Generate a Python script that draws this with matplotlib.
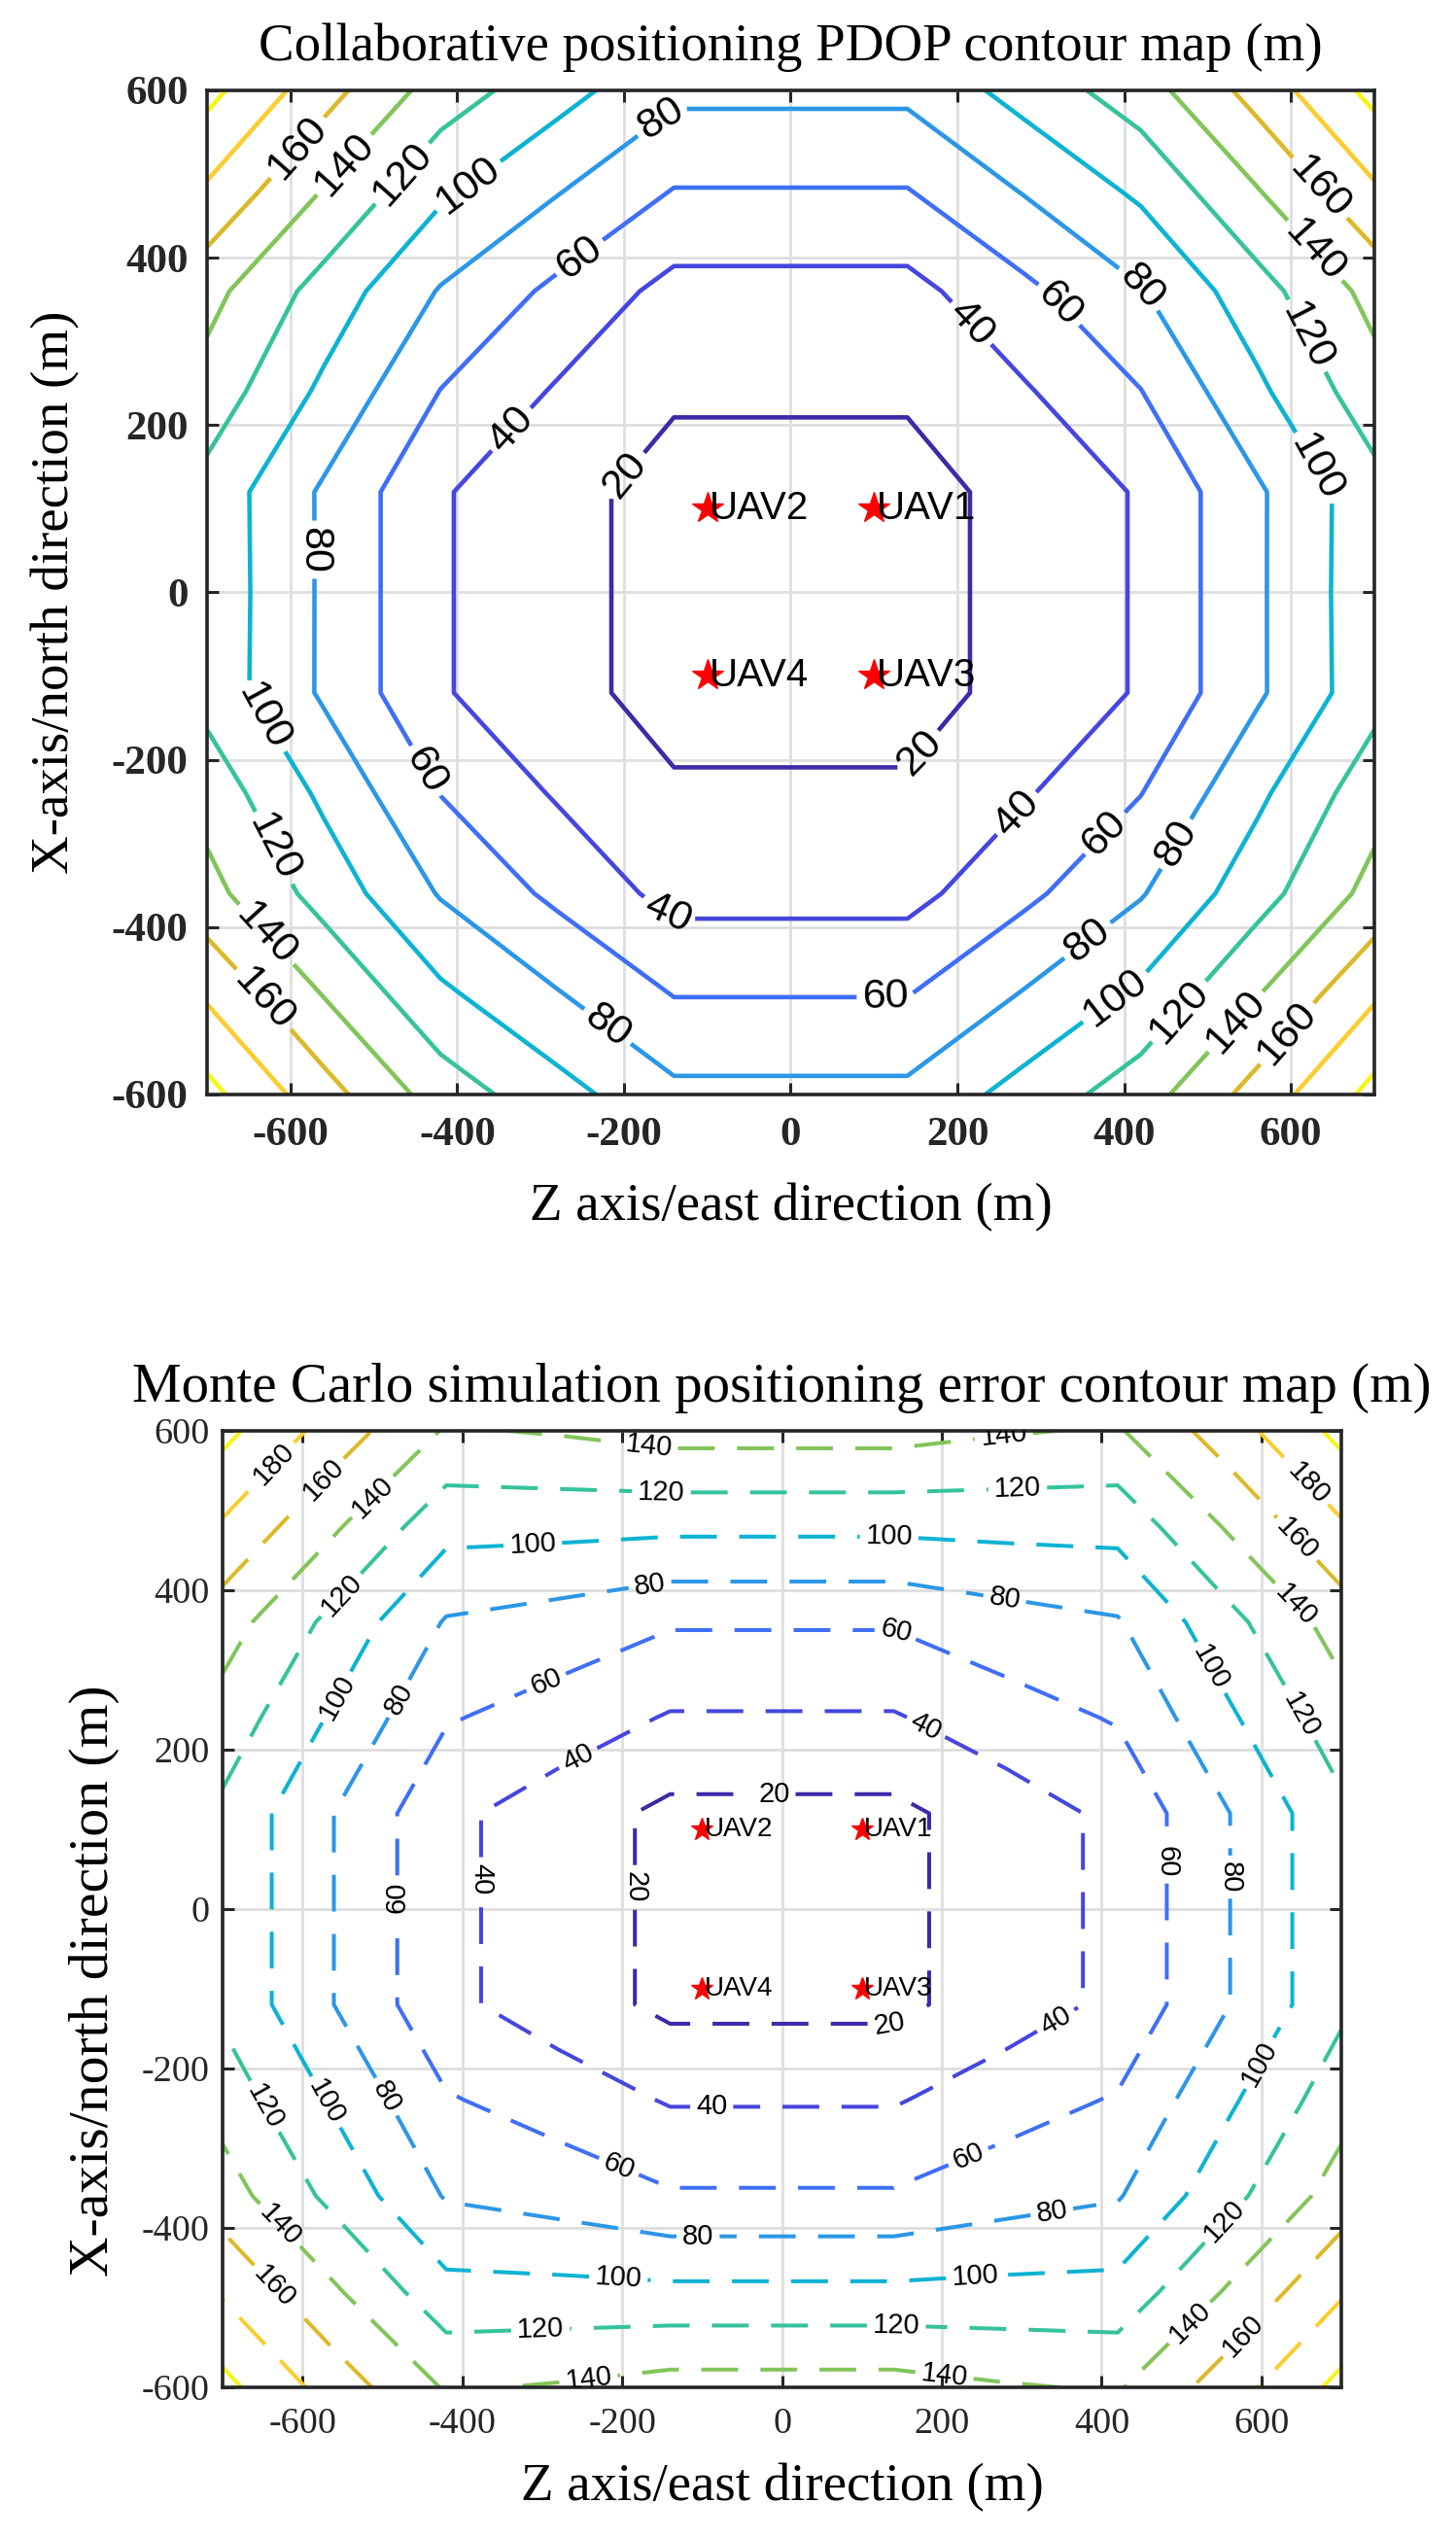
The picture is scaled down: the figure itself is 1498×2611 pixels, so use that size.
import numpy as np
import matplotlib
matplotlib.use('Agg')
import matplotlib.pyplot as plt

# grid nodes of both surfaces (m)
east = [-700, -560, -420, -280, -140, 0, 140, 280, 420, 560, 700]
north = [-600, -480, -360, -240, -120, 0, 120, 240, 360, 480, 600]

# one quadrant of each surface, rows north = 0,120,...,600 and cols east = 0,140,...,700
# (both maps are symmetric about the two axes)
pdop_quarter = [
    [14.8, 14.8, 24.5, 42.0, 77.1, 113.5],
    [14.8, 14.8, 24.5, 42.0, 77.1, 113.0],
    [21.8, 21.8, 37.9, 59.5, 95.9, 132.0],
    [33.6, 33.6, 55.5, 78.5, 112.2, 146.6],
    [59.2, 59.2, 81.3, 103.9, 139.0, 177.1],
    [84.7, 84.7, 107.6, 130.7, 167.9, 206.1],
]
mc_quarter = [
    [15.4, 15.4, 30.0, 44.5, 79.8, 115.8],
    [15.4, 15.4, 30.0, 44.5, 79.8, 115.8],
    [38.4, 38.4, 51.3, 61.7, 97.0, 132.0],
    [62.0, 62.0, 71.7, 78.3, 114.1, 149.4],
    [104.6, 104.6, 106.0, 106.5, 142.7, 177.6],
    [148.0, 148.0, 141.8, 138.0, 171.0, 205.9],
]

levels = [20, 40, 60, 80, 100, 120, 140, 160, 180, 200]
level_colors = ['#3b2ba8', '#4646e0', '#3f6ff6', '#2c97e6', '#0db3d2',
                '#36c39b', '#82c55a', '#dcb92a', '#fbcd31', '#f6f51a']

uav_names = ['UAV1', 'UAV2', 'UAV3', 'UAV4']
uav_east = [100, -100, 100, -100]
uav_north = [100, 100, -100, -100]

ticks = [-600, -400, -200, 0, 200, 400, 600]
tick_labels = ['-600', '-400', '-200', '0', '200', '400', '600']

# where MATLAB put the contour labels
pdop_label_pos = [(-153, 563), (-591, 531), (-533, 509), (-464, 499), (-386, 485),
                  (-252, 399), (-333, 193), (-194, 137), (-572, 51),
                  (634, 483), (627, 407), (620, 307), (627, 147), (418, 363),
                  (321, 343), (214, 319),
                  (-632, -149), (-623, -307), (-630, -410), (-635, -489),
                  (-439, -214), (-148, -385), (-222, -522),
                  (154, -191), (273, -266), (378, -289), (466, -303), (359, -420),
                  (114, -485), (390, -485), (468, -503), (537, -516), (596, -528)]
mc_label_pos = [(-628, 551), (-572, 537), (-516, 521), (-553, 395), (-558, 266),
                (-480, 264), (-167, 579), (-151, 521), (-312, 458), (-165, 405),
                (-295, 284), (-253, 185), (-10, 142), (-379, 38), (-186, 28),
                (-483, 15),
                (278, 589), (295, 523), (134, 464), (278, 385), (141, 345),
                (177, 222), (655, 531), (638, 458), (636, 375), (641, 239),
                (530, 299), (477, 59), (557, 40),
                (-651, -250), (-574, -244), (-498, -237), (-637, -405),
                (-642, -480), (-88, -250), (-205, -325), (-105, -413),
                (-205, -465), (-302, -532), (-242, -591),
                (134, -145), (343, -141), (235, -315), (338, -382), (242, -463),
                (143, -526), (203, -587), (600, -195), (552, -390), (509, -518),
                (578, -536)]


def full_grid(quarter):
    q = np.array(quarter)
    rows = np.vstack([q[::-1], q[1:]])
    return np.hstack([rows[:, ::-1], rows[:, 1:]])


def draw(ax, Z, style, lw, label_pos, label_size, uav_size, star_size, tick_bold, tick_size, tick_pad):
    ax.set_axisbelow(True)
    ax.grid(True, color='#dedede', lw=2.0)
    cs = ax.contour(east, north, Z, levels=levels, colors=level_colors, linewidths=lw)
    if style is not None:
        cs.set_linestyle(style)
    with plt.rc_context({'font.family': 'Liberation Sans'}):
        ax.clabel(cs, manual=label_pos, inline=True, fontsize=label_size, colors='k',
                  fmt='%d', inline_spacing=6)
    ax.plot(uav_east, uav_north, '*', color='red', ms=star_size, mec='red', ls='none', zorder=5)
    for name, x, y in zip(uav_names, uav_east, uav_north):
        ax.text(x + 3, y, name, fontsize=uav_size, family='Liberation Sans',
                ha='left', va='center', zorder=6)
    ax.set_xlim(-700, 700)
    ax.set_ylim(-600, 600)
    ax.set_xticks(ticks)
    ax.set_xticklabels(tick_labels)
    ax.set_yticks(ticks)
    ax.set_yticklabels(tick_labels)
    ax.tick_params(direction='in', top=True, right=True, length=8.6, width=2.2,
                   colors='#262626', labelsize=tick_size)
    ax.tick_params(axis='x', pad=tick_pad[0])
    ax.tick_params(axis='y', pad=tick_pad[1])
    for t in ax.get_xticklabels() + ax.get_yticklabels():
        t.set_fontweight('bold' if tick_bold else 'normal')
    for s in ax.spines.values():
        s.set_linewidth(2.6)
        s.set_color('#262626')


plt.rcParams['font.family'] = 'Liberation Serif'

fig = plt.figure(figsize=(14.98, 26.11), dpi=100)

ax1 = fig.add_axes([0.1422, 0.5688, 0.8017, 0.3956])
draw(ax1, full_grid(pdop_quarter), None, 3.3, pdop_label_pos, 31, 29, 24, True, 31, (17, 14))
ax1.set_title('Collaborative positioning PDOP contour map (m)', fontsize=39.5,
              y=1.030, va='baseline', pad=0)
ax1.set_xlabel('Z axis/east direction (m)', fontsize=39.5, va='baseline')
ax1.xaxis.set_label_coords(0.5, -0.1249)
ax1.set_ylabel('X-axis/north direction (m)', fontsize=39.5, va='baseline')
ax1.yaxis.set_label_coords(-0.119, 0.5)

ax2 = fig.add_axes([0.1529, 0.0594, 0.7684, 0.3769])
draw(ax2, full_grid(mc_quarter), (0, (9.4, 5.7)), 2.9, mc_label_pos, 21, 20, 17, False, 27.5, (15, 9.4))
ax2.set_title('Monte Carlo simulation positioning error contour map (m)', fontsize=41,
              y=1.0305, va='baseline', pad=0)
ax2.set_xlabel('Z axis/east direction (m)', fontsize=39.5, va='baseline')
ax2.xaxis.set_label_coords(0.5, -0.118)
ax2.set_ylabel('X-axis/north direction (m)', fontsize=41.5, va='baseline')
ax2.yaxis.set_label_coords(-0.103, 0.425)

fig.savefig('out.png', dpi=100, facecolor='white')
